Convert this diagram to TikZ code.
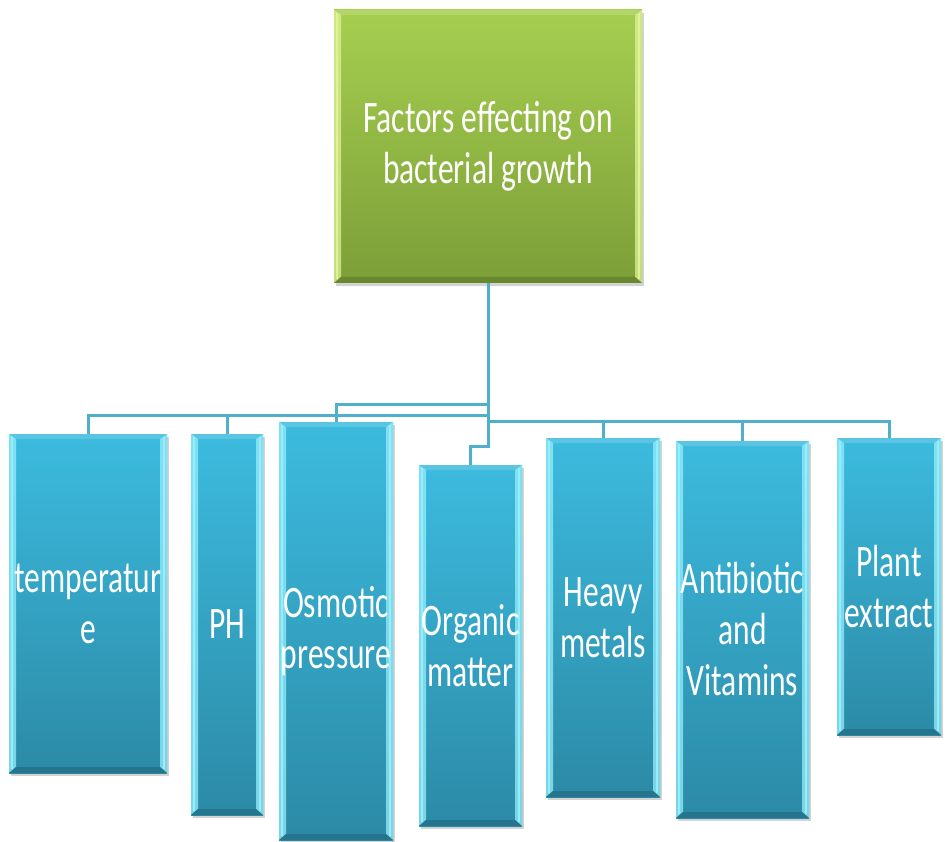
\documentclass[tikz,border=0pt]{standalone}
\usepackage{fontspec}
\newfontfamily\calib{Carlito}[FakeStretch=0.7]
\usetikzlibrary{positioning,calc,shadows}
\definecolor{linkblue}{RGB}{80,176,204}
\definecolor{boxtop}{RGB}{60,187,223}
\definecolor{boxbot}{RGB}{44,138,166}
\definecolor{bluehi}{RGB}{150,238,252}
\definecolor{bluedk}{RGB}{36,112,136}
\definecolor{greentop}{RGB}{166,207,80}
\definecolor{greenbot}{RGB}{124,158,56}
\definecolor{greenhi}{RGB}{222,242,150}
\definecolor{greendk}{RGB}{100,130,44}

\begin{document}
\begin{tikzpicture}[x=1pt, y=-1pt,
		bevel/.style n args={4}{top color=#1, bottom color=#2, draw=none,
			drop shadow={opacity=.35, shadow xshift=2pt, shadow yshift=-3pt},
			path picture={
				\coordinate (bbsw) at (path picture bounding box.south west);
				\coordinate (bbne) at (path picture bounding box.north east);
				\fill[#3, opacity=.75] (bbsw) -- (bbsw|-bbne) -- ++(7pt,-5pt) -- ($(bbsw)+(7pt,6pt)$) -- cycle;
				\fill[#3, opacity=.75] (bbne|-bbsw) -- (bbne) -- ++(-7pt,-5pt) -- ($(bbne|-bbsw)+(-7pt,6pt)$) -- cycle;
				\fill[#4, opacity=.8] (bbsw) -- ($(bbsw)+(7pt,6pt)$) -- ($(bbne|-bbsw)+(-7pt,6pt)$) -- (bbne|-bbsw) -- cycle;
				\fill[white, opacity=.15] (bbsw|-bbne) -- (bbne) -- ++(-7pt,-5pt) -- ($(bbsw|-bbne)+(7pt,-5pt)$) -- cycle;
				\draw[#3, line width=1.2pt] ($(bbsw)+(3pt,4pt)$) -- ($(bbsw|-bbne)+(3pt,-3pt)$);
				\draw[#3, line width=1.2pt] ($(bbne|-bbsw)+(-3pt,4pt)$) -- ($(bbne)+(-3pt,-3pt)$);
			}},
		factor/.style={bevel={boxtop}{boxbot}{bluehi}{bluedk}, text=white, align=center,
			inner sep=0pt, font=\calib\fontsize{45}{51}\selectfont},
		mainbox/.style={bevel={greentop}{greenbot}{greenhi}{greendk}, text=white, align=center,
			inner sep=0pt, font=\calib\fontsize{45}{51}\selectfont},
		link/.style={line width=3pt, color=linkblue}
		]
		\useasboundingbox (0,0) rectangle (945,842);
		
		\node[mainbox](root) at (488,146.5) [minimum width=308pt, minimum height=273pt] {Factors effecting on\\bacterial growth};
		
		\node[factor](temp) at (88,603.5) [minimum width=158pt, minimum height=339pt] {temperatur\\e};
		\node[factor](ph) at (227,624.5) [minimum width=72pt, minimum height=381pt] {PH};
		\node[factor](osmo) at (336,631) [minimum width=114pt, minimum height=418pt] {Osmotic\\pressure};
		\node[factor](organ) at (470.5,645.5) [minimum width=103pt, minimum height=361pt] {Organic\\matter};
		\node[factor](heavy) at (603,617.5) [minimum width=114pt, minimum height=359pt] {Heavy\\metals};
		\node[factor](anti) at (742.5,629.5) [minimum width=133pt, minimum height=377pt] {Antibiotic\\and\\Vitamins};
		\node[factor](plant) at (889,586.5) [minimum width=104pt, minimum height=297pt] {Plant\\extract};
		
		\draw[link] (root.south) |- ([yshift=18pt]temp.north) -- (temp.north);
		\draw[link] ([yshift=18pt]ph.north) -- (ph.north);
		\draw[link] (root.south) |- ([yshift=17pt]osmo.north) -- (osmo.north);
		\draw[link] (root.south) |- ([yshift=18pt]organ.north) -- (organ.north);
		\draw[link] (root.south) |- ([yshift=16pt]plant.north) -- (plant.north);
		\draw[link] ([yshift=16pt]heavy.north) -- (heavy.north);
		\draw[link] ([yshift=19pt]anti.north) -- (anti.north);
\end{tikzpicture}
\end{document}
